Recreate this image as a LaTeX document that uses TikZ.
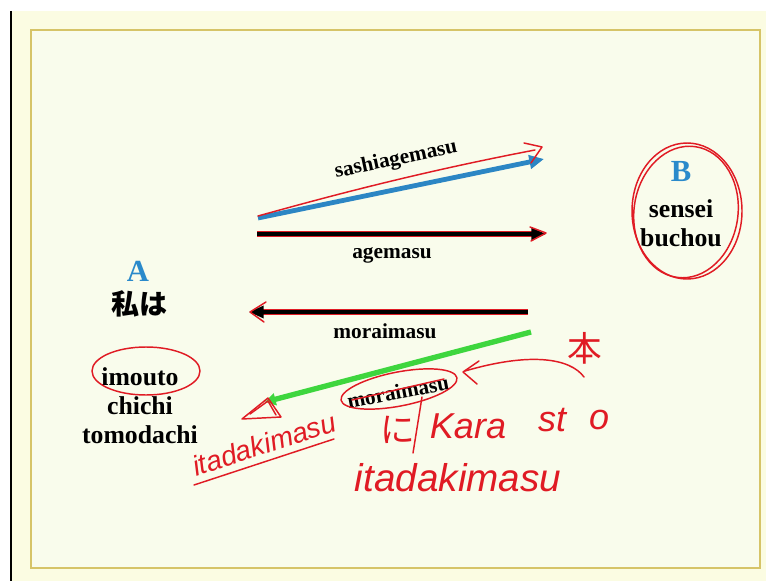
\documentclass[tikz,border=0pt]{standalone}
\usepackage{fontspec}
\setmainfont{Liberation Serif}
\newfontfamily\cjkfont{Noto Sans CJK JP}
\newfontfamily\handfont{Liberation Sans}
\usetikzlibrary{arrows.meta,calc}
\definecolor{bgyellow}{HTML}{FBFCE2}
\definecolor{innerbg}{HTML}{F9FCEC}
\definecolor{framegold}{HTML}{D6C468}
\definecolor{titleblue}{HTML}{2A8ACB}
\definecolor{arrowblue}{HTML}{2C86C4}
\definecolor{arrowgreen}{HTML}{3ED63E}
\definecolor{pen}{HTML}{E01B24}
\begin{document}
\begin{tikzpicture}[x=0.75pt,y=-0.75pt,
  labeltext/.style={font=\bfseries\fontsize{16}{18}\selectfont, inner sep=0pt},
  nametext/.style={font=\bfseries\fontsize{19.3}{22}\selectfont, inner sep=0pt},
  titletext/.style={font=\bfseries\fontsize{23}{26}\selectfont, text=titleblue, inner sep=0pt},
  hand/.style={font=\handfont\itshape\fontsize{27}{30}\selectfont, text=pen, inner sep=0pt},
  handcjk/.style={font=\cjkfont\fontsize{26}{30}\selectfont, text=pen, inner sep=0pt},
  penline/.style={draw=pen, line width=1.1pt, line cap=round, line join=round},
  bluearrow/.style={draw=arrowblue, line width=3.6pt, -{Triangle[length=11pt,width=10pt]}},
  blackarrow/.style={draw=black, line width=2.4pt, -{Triangle[length=11pt,width=9pt]}},
  greenarrow/.style={draw=arrowgreen, line width=4pt, -{Triangle[length=8pt,width=9pt]}},
  redunder/.style={draw=pen, line width=4.2pt}]
\useasboundingbox (0,0) rectangle (766,581);
\fill[white] (0,0) rectangle (766,581);
\fill[bgyellow] (12,11) rectangle (766,581);
\draw[black, line width=0.9pt] (11,11) -- (11,581);
\draw[framegold, line width=1.6pt, fill=innerbg] (31,30) rectangle (760,568);

% coordinates
\coordinate (s1) at (258,218);
\coordinate (s2) at (544,159);
\coordinate (g1) at (257,234);
\coordinate (g2) at (546,234);
\coordinate (m1) at (528,312);
\coordinate (m2) at (249,312);
\coordinate (i1) at (531,332);
\coordinate (i2) at (265,402);

% side A
\node[titletext] (A) at (138,271) {A};
\node[font=\cjkfont\bfseries\fontsize{21}{24}\selectfont, inner sep=0pt] (wa) at (139,304) {私は};
\node[nametext] (imo) at (140,377) {imouto};
\node[nametext] (chi) at (140,406) {chichi};
\node[nametext] (tomo) at (140,435) {tomodachi};

% side B
\node[titletext] (B) at (681,172) {B};
\node[nametext] (sen) at (681,209) {sensei};
\node[nametext] (bu) at (681,238) {buchou};

% arrows
\draw[redunder] (g1) -- ($(g2)+(-8,0)$);
\draw[redunder] (m1) -- ($(m2)+(8,0)$);
\draw[bluearrow] (s1) -- (s2);
\draw[blackarrow] (g1) -- (g2);
\draw[blackarrow] (m1) -- (m2);
\draw[greenarrow] (i1) -- (i2);

% labels
\node[labeltext, rotate=12] (lsashi) at (396,160) {sashiagemasu};
\node[labeltext] (lage) at (392,255) {agemasu};
\node[labeltext] (lmorai) at (385,331) {moraimasu};
\node[labeltext, rotate=11] (lmorai2) at (398,392) {moraimasu};

% pen annotations over arrows
\draw[penline] (258,216) .. controls (330,196) and (420,172) .. (535,150);
\draw[penline] (524,143) -- (542,147) -- (531,163);
\draw[penline] (530,227) -- (546,233) -- (531,241);
\draw[penline] (266,302) -- (250,312) -- (264,322);
\draw[penline] (352,400) -- (444,379);
\draw[penline, rotate around={11:(399,389)}] (399,389) ellipse [x radius=59, y radius=17];
\draw[penline] (584,377) .. controls (570,358) and (530,352) .. (465,371);
\draw[penline] (479,361) -- (463,372) -- (477,384);
% triangle at the green tip
\draw[penline] (242,419) -- (268,398) -- (281,417) -- cycle;
\draw[penline] (250,414) -- (268,401) -- (276,415);
% ellipses
\draw[penline] (146,371) ellipse [x radius=54, y radius=24];
\draw[penline] (687,211) ellipse [x radius=55, y radius=68];
\draw[penline, rotate around={-8:(686,212)}] (686,212) ellipse [x radius=52, y radius=66];

% handwriting
\node[handcjk] (hon) at (585,348) {本};
\node[hand, font=\handfont\itshape\fontsize{21}{24}\selectfont, rotate=18] (ita1) at (264,444) {itadakimasu};
\draw[penline] (194,485) -- (334,439);
\node[handcjk] (ni) at (398,430) {に};
\draw[penline] (422,397) -- (413,453);
\node[hand] (kara) at (468,426) {Kara};
\node[hand] (st) at (552,420) {st};
\node[hand] (o) at (599,420) {o};
\node[hand, font=\handfont\itshape\fontsize{29}{32}\selectfont] (ita2) at (458,478) {itadakimasu};
\end{tikzpicture}
\end{document}
